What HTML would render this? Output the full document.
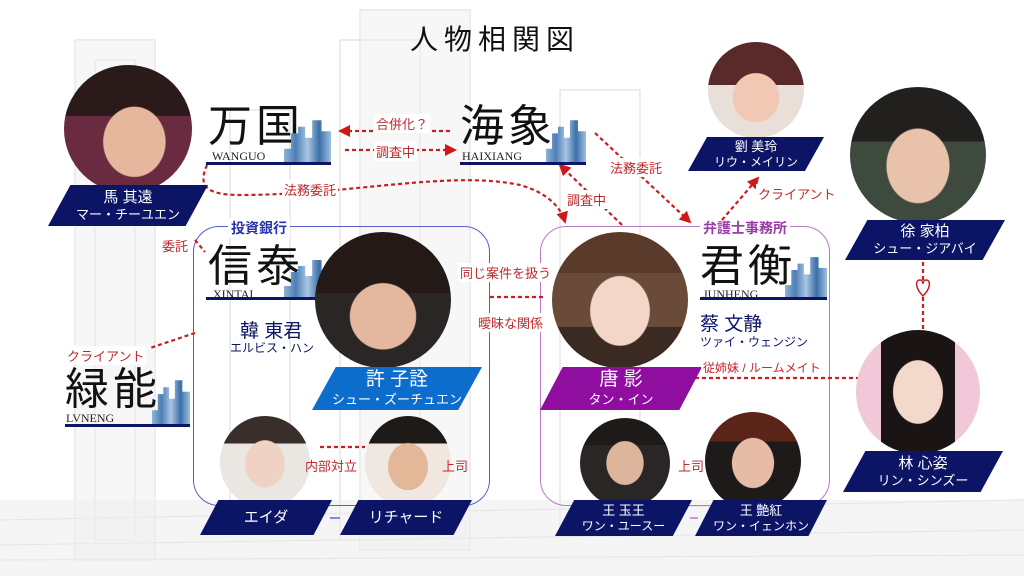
<!DOCTYPE html>
<html><head><meta charset="utf-8"><style>
*{margin:0;padding:0;box-sizing:border-box}
body{width:1024px;height:576px;overflow:hidden;background:#fff;position:relative;font-family:"Liberation Sans","Noto Sans CJK JP",sans-serif}
.a{position:absolute}
.ph{position:absolute;border-radius:50%;background:radial-gradient(ellipse 42% 48% at 50% 60%,#e9c3ad 0 60%,#c99b86 75%,transparent 77%),linear-gradient(#2a2220 0 45%,#5b4a44 45%,#3a3535 100%);}
.nb{position:absolute;background:#0c1466;color:#fff;text-align:center;clip-path:polygon(14% 0,100% 0,86% 100%,0 100%);display:flex;flex-direction:column;justify-content:center;line-height:1.2;font-size:13px}
.nb b{font-weight:normal;font-size:15px}
.co{position:absolute;font-size:44px;color:#111;letter-spacing:4px;line-height:1}
.en{position:absolute;font-family:"Liberation Serif",serif;font-size:12px;color:#222}
.ul{position:absolute;height:3px;background:#0c1466}
.bld{position:absolute;background:linear-gradient(90deg,#8fb3d8,#4d7fb5,#a9c6e4,#3c6fa8,#9ebfe0);clip-path:polygon(0 100%,0 70%,15% 70%,15% 35%,30% 35%,30% 20%,45% 20%,45% 45%,60% 45%,60% 5%,80% 5%,80% 30%,100% 30%,100% 100%)}
.lb{position:absolute;color:#c0282c;font-size:13px;white-space:nowrap;background:#fff;padding:0 2px;z-index:5}
</style></head><body>
<svg class="a" style="left:0;top:0" width="1024" height="576">
<g fill="none" stroke="#d8d8d8" stroke-width="1">
<rect x="75" y="40" width="80" height="520"/><rect x="95" y="60" width="40" height="480"/>
<rect x="340" y="40" width="80" height="500"/><rect x="360" y="10" width="110" height="540"/>
<rect x="560" y="90" width="80" height="440"/><rect x="230" y="110" width="60" height="420"/>
<path d="M0 520 L1024 500 M0 545 L1024 530 M0 560 L1024 555"/>
</g>
<g fill="#efefef"><rect x="360" y="10" width="110" height="540" opacity=".5"/><rect x="75" y="40" width="80" height="520" opacity=".5"/><rect x="0" y="500" width="1024" height="76" opacity=".6"/></g>
</svg>
<div class="a" style="left:410px;top:18px;font-size:28px;letter-spacing:6px;color:#111">人物相関図</div>

<div class="a" style="left:193px;top:226px;width:297px;height:280px;border:1.5px solid #5b5bd0;border-radius:26px"></div>
<div class="a" style="left:228px;top:218px;background:#fff;color:#2a33b0;font-size:14px;font-weight:bold;padding:0 3px">投資銀行</div>
<div class="a" style="left:540px;top:226px;width:290px;height:280px;border:1.5px solid #b87ac8;border-radius:26px"></div>
<div class="a" style="left:700px;top:218px;background:#fff;color:#9a3aa8;font-size:14px;font-weight:bold;padding:0 3px">弁護士事務所</div>

<svg class="a" style="left:0;top:0" width="1024" height="576">
<defs><marker id="ar2" markerWidth="12" markerHeight="12" refX="10" refY="6" orient="auto" markerUnits="userSpaceOnUse"><path d="M0 0 L12 6 L0 12z" fill="#d01818"/></marker></defs>
<g stroke="#c81e1e" stroke-width="2.2" stroke-dasharray="4 3" fill="none">
<path d="M450 131 L340 131" marker-end="url(#ar2)"/>
<path d="M345 150 L455 150" marker-end="url(#ar2)"/>
<path d="M207 165 C198 185 205 195 240 195 C350 195 450 170 520 185 C545 192 560 205 565 222" marker-end="url(#ar2)"/>
<path d="M595 133 L690 222" marker-end="url(#ar2)"/>
<path d="M622 225 L560 165" marker-end="url(#ar2)"/>
<path d="M722 220 L758 178" marker-end="url(#ar2)"/>
<path d="M195 240 L205 252"/>
<path d="M195 333 L150 348"/>
<path d="M490 297 L545 297"/>
<path d="M695 378 L860 378"/>
<path d="M923 262 L923 330"/>
<path d="M320 447 L365 447"/>
</g>
<g stroke="#6060d0" stroke-width="1.5"><path d="M330 518 L340 518"/></g>
<g stroke="#b87ac8" stroke-width="1.5"><path d="M690 518 L698 518"/></g>
<path d="M923 296 C915 288 915 280 920 280 C922 280 923 282 923 284 C923 282 924 280 926 280 C931 280 931 288 923 296z" fill="#fff" stroke="#c81e1e" stroke-width="1.5"/>
</svg>

<div class="lb" style="left:374px;top:114px">合併化？</div>
<div class="lb" style="left:374px;top:142px">調査中</div>
<div class="lb" style="left:282px;top:180px">法務委託</div>
<div class="lb" style="left:608px;top:158px">法務委託</div>
<div class="lb" style="left:565px;top:190px">調査中</div>
<div class="lb" style="left:756px;top:184px">クライアント</div>
<div class="lb" style="left:160px;top:236px">委託</div>
<div class="lb" style="left:65px;top:346px">クライアント</div>
<div class="lb" style="left:458px;top:263px">同じ案件を扱う</div>
<div class="lb" style="left:476px;top:313px">曖昧な関係</div>
<div class="lb" style="left:701px;top:359px;font-size:12px">従姉妹 / ルームメイト</div>

<div class="co" style="left:208px;top:105px">万国</div><div class="en" style="left:212px;top:149px">WANGUO</div><div class="bld" style="left:284px;top:118px;width:47px;height:44px"></div><div class="ul" style="left:206px;top:162px;width:125px"></div>
<div class="co" style="left:460px;top:105px">海象</div><div class="en" style="left:462px;top:149px">HAIXIANG</div><div class="bld" style="left:546px;top:118px;width:40px;height:44px"></div><div class="ul" style="left:460px;top:162px;width:126px"></div>
<div class="co" style="left:208px;top:245px">信泰</div><div class="en" style="left:213px;top:287px">XINTAI</div><div class="bld" style="left:284px;top:258px;width:47px;height:40px"></div><div class="ul" style="left:206px;top:297px;width:125px"></div>
<div class="co" style="left:700px;top:245px">君衡</div><div class="en" style="left:703px;top:287px">JUNHENG</div><div class="bld" style="left:785px;top:255px;width:42px;height:43px"></div><div class="ul" style="left:700px;top:297px;width:127px"></div>
<div class="co" style="left:65px;top:368px">緑能</div><div class="en" style="left:66px;top:411px">LVNENG</div><div class="bld" style="left:152px;top:378px;width:38px;height:46px"></div><div class="ul" style="left:65px;top:424px;width:125px"></div>

<div class="ph" style="left:64px;top:65px;width:128px;height:128px;background:radial-gradient(ellipse 40% 45% at 55% 60%,#e6b79c 0 60%,transparent 62%),linear-gradient(#2a1a1a 0 40%,#6a2a40 40%)"></div>
<div class="nb" style="left:48px;top:185px;width:160px;height:41px"><b>馬 其遠</b>マー・チーユエン</div>

<div class="ph" style="left:708px;top:42px;width:96px;height:96px;background:radial-gradient(ellipse 40% 42% at 50% 58%,#f0c8b4 0 60%,transparent 62%),linear-gradient(#5a2a2a 0 45%,#e8e0d8 45%)"></div>
<div class="nb" style="left:688px;top:137px;width:136px;height:34px;font-size:12px"><b style="font-size:13px">劉 美玲</b>リウ・メイリン</div>

<div class="ph" style="left:850px;top:87px;width:136px;height:136px;background:radial-gradient(ellipse 38% 45% at 50% 58%,#e8c2aa 0 60%,transparent 62%),linear-gradient(#22201e 0 40%,#3e4a3e 40%)"></div>
<div class="nb" style="left:845px;top:220px;width:160px;height:40px"><b>徐 家柏</b>シュー・ジアバイ</div>

<div class="ph" style="left:856px;top:330px;width:124px;height:124px;background:radial-gradient(ellipse 33% 42% at 50% 50%,#f3d8cc 0 60%,transparent 62%),linear-gradient(90deg,#f0c8d8 0 20%,#1a1414 20% 80%,#f0c8d8 80%)"></div>
<div class="nb" style="left:843px;top:451px;width:160px;height:41px"><b>林 心姿</b>リン・シンズー</div>

<div class="ph" style="left:315px;top:232px;width:136px;height:136px;background:radial-gradient(ellipse 40% 40% at 50% 62%,#e4b89e 0 60%,transparent 62%),linear-gradient(#231a18 0 45%,#2a2626 45%)"></div>
<div class="nb" style="left:312px;top:367px;width:170px;height:43px;background:#0d6dcc"><b style="font-size:19px">許 子詮</b>シュー・ズーチュエン</div>
<div class="a" style="left:240px;top:316px;font-size:19px;color:#0c1466">韓 東君</div>
<div class="a" style="left:230px;top:339px;font-size:12px;color:#0c1466">エルビス・ハン</div>

<div class="ph" style="left:552px;top:232px;width:136px;height:136px;background:radial-gradient(ellipse 36% 42% at 50% 58%,#f3d6c8 0 60%,transparent 62%),linear-gradient(#5a3a2a 0 30%,#6a4a38 30% 70%,#3a2a22 70%)"></div>
<div class="nb" style="left:540px;top:367px;width:162px;height:43px;background:#8f0ea0"><b style="font-size:19px">唐 影</b>タン・イン</div>
<div class="a" style="left:700px;top:309px;font-size:19px;color:#0c1466">蔡 文静</div>
<div class="a" style="left:700px;top:333px;font-size:12px;color:#0c1466">ツァイ・ウェンジン</div>

<div class="ph" style="left:220px;top:416px;width:90px;height:92px;background:radial-gradient(ellipse 36% 42% at 50% 52%,#f0d2c4 0 60%,transparent 62%),linear-gradient(#3a2e2a 0 30%,#eae6e2 30%)"></div>
<div class="nb" style="left:200px;top:500px;width:132px;height:35px"><b>エイダ</b></div>
<div class="ph" style="left:365px;top:416px;width:86px;height:92px;background:radial-gradient(ellipse 38% 42% at 50% 55%,#e2b898 0 60%,transparent 62%),linear-gradient(#1e1a18 0 30%,#f0e8e0 30%)"></div>
<div class="nb" style="left:340px;top:500px;width:132px;height:35px"><b>リチャード</b></div>

<div class="ph" style="left:580px;top:418px;width:90px;height:90px;background:radial-gradient(ellipse 34% 40% at 50% 50%,#ddb49c 0 60%,transparent 62%),linear-gradient(#1e1a18 0 30%,#2a2626 30%)"></div>
<div class="nb" style="left:555px;top:500px;width:137px;height:36px;font-size:12px"><b style="font-size:13px">王 玉王</b>ワン・ユースー</div>
<div class="ph" style="left:705px;top:412px;width:96px;height:98px;background:radial-gradient(ellipse 36% 42% at 50% 52%,#e6bca6 0 60%,transparent 62%),linear-gradient(#5a2418 0 30%,#1e1a1a 30%)"></div>
<div class="nb" style="left:695px;top:500px;width:132px;height:36px;font-size:12px"><b style="font-size:13px">王 艶紅</b>ワン・イェンホン</div>

<div class="lb" style="left:303px;top:456px;background:transparent">内部対立</div>
<div class="lb" style="left:440px;top:456px;background:transparent">上司</div>
<div class="lb" style="left:676px;top:456px;background:transparent">上司</div>
</body></html>
